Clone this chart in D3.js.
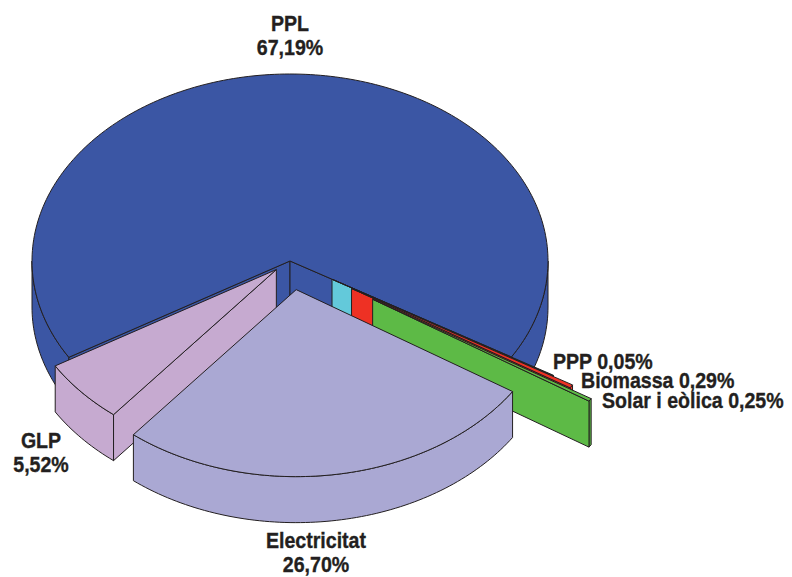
<!DOCTYPE html>
<html>
<head>
<meta charset="utf-8">
<script src="https://cdn.jsdelivr.net/npm/d3@7/dist/d3.min.js"></script>
<style>
	body { margin: 0; background: #fff; }
	text { font-family: "Liberation Sans", Arial, sans-serif; font-weight: bold; font-size: 22.5px; fill: #231f20; stroke: #231f20; stroke-width: 0.35px; }
</style>
</head>
<body>
<svg id="chart" width="792" height="577"></svg>
<script>
// data
var categories = ["PPL", "PPP", "Biomassa", "Solar i eòlica", "Electricitat", "GLP"];
var shares = [67.19, 0.05, 0.29, 0.25, 26.70, 5.52];

// styling / layout
var colours = ["#3b56a4", "#63c9da", "#ee3124", "#5dba46", "#aaa8d3", "#c6aad0"];
var explode = [0, 0.19, 0.28, 0.38, 0.155, 0.07];
var labelPos = {
	"PPL": { x: 290, y: 31, anchor: "middle", split: true },
	"Electricitat": { x: 316, y: 548, anchor: "middle", split: true },
	"GLP": { x: 41, y: 448, anchor: "middle", split: true },
	"PPP": { x: 553, y: 369, anchor: "start", split: false },
	"Biomassa": { x: 581, y: 388, anchor: "start", split: false },
	"Solar i eòlica": { x: 602, y: 408, anchor: "start", split: false }
};
var squeeze = 0.87; // condensed look of the original type

var cx = 290, cy = 261, rx = 258, ry = 187, depth = 46;
var startAngle = -121 * Math.PI / 180;
var edge = "#231f20";

var pct = d3.formatLocale({ decimal: ",", thousands: ".", grouping: [3], currency: ["", "€"] }).format(".2f");

var rows = categories.map(function (c, i) {
	return { name: c, value: shares[i], colour: colours[i], explode: explode[i] };
});

var pie = d3.pie()
	.sort(null)
	.value(function (d) { return d.value; })
	.startAngle(startAngle)
	.endAngle(startAngle + 2 * Math.PI);

var slices = pie(rows).map(function (s) {
	var mid = (s.startAngle + s.endAngle) / 2;
	s.ox = s.data.explode * rx * Math.sin(mid);
	s.oy = -s.data.explode * ry * Math.cos(mid);
	s.front = -Math.cos(mid);
	return s;
});

function pt(s, a, dz) {
	return [cx + s.ox + rx * Math.sin(a), cy + s.oy - ry * Math.cos(a) + dz];
}

function arcPts(s, a0, a1, dz) {
	var n = Math.max(1, Math.ceil((a1 - a0) / 0.02));
	return d3.range(n + 1).map(function (i) { return pt(s, a0 + (a1 - a0) * i / n, dz); });
}

// parts of [a0,a1] where the outer wall faces the viewer
function frontRanges(a0, a1) {
	var out = [];
	[-1, 0, 1].forEach(function (k) {
		var lo = Math.max(a0, Math.PI / 2 + 2 * k * Math.PI);
		var hi = Math.min(a1, 3 * Math.PI / 2 + 2 * k * Math.PI);
		if (hi > lo) out.push([lo, hi]);
	});
	return out;
}

var polygon = d3.line().curve(d3.curveLinearClosed);

var svg = d3.select("#chart");
var g = svg.append("g")
	.attr("stroke", edge)
	.attr("stroke-width", 1)
	.attr("stroke-linejoin", "round");

slices.slice().sort(function (a, b) { return a.front - b.front; }).forEach(function (s) {
	var apex = [cx + s.ox, cy + s.oy];
	var apexLow = [apex[0], apex[1] + depth];
	var sg = g.append("g").attr("fill", s.data.colour);

	frontRanges(s.startAngle, s.endAngle).forEach(function (r) {
		var pts = arcPts(s, r[0], r[1], 0).concat(arcPts(s, r[0], r[1], depth).reverse());
		sg.append("path").attr("d", polygon(pts));
	});

	// cut faces that turn towards the viewer
	if (Math.sin(s.startAngle) < 0) {
		sg.append("path").attr("d", polygon([apex, pt(s, s.startAngle, 0), pt(s, s.startAngle, depth), apexLow]));
	}
	if (Math.sin(s.endAngle) > 0) {
		sg.append("path").attr("d", polygon([apex, pt(s, s.endAngle, 0), pt(s, s.endAngle, depth), apexLow]));
	}

	sg.append("path").attr("d", polygon([apex].concat(arcPts(s, s.startAngle, s.endAngle, 0))));
});

var labels = svg.append("g");
slices.forEach(function (s) {
	var p = labelPos[s.data.name];
	var t = labels.append("text")
		.attr("transform", "translate(" + p.x + "," + p.y + ") scale(" + squeeze + ",1)")
		.attr("text-anchor", p.anchor);
	if (p.split) {
		t.append("tspan").attr("x", 0).text(s.data.name);
		t.append("tspan").attr("x", 0).attr("dy", 24).text(pct(s.data.value) + "%");
	}
	else {
		t.text(s.data.name + " " + pct(s.data.value) + "%");
	}
});
</script>
</body>
</html>
